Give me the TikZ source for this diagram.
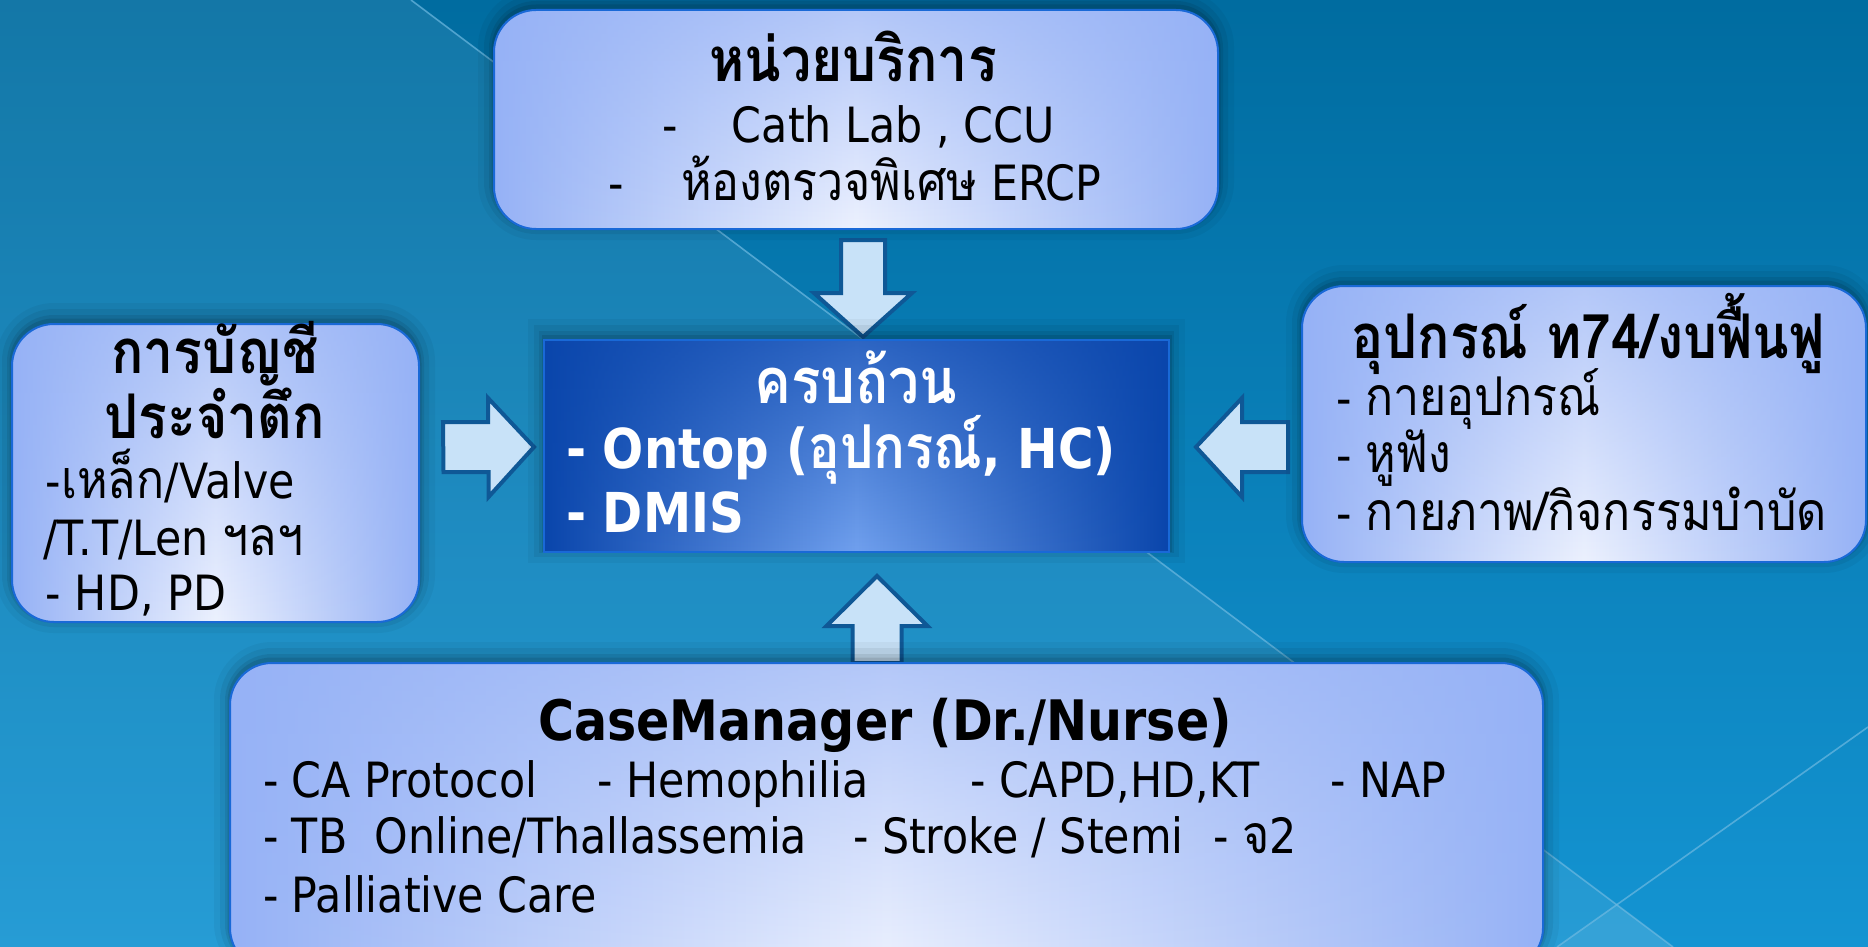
\documentclass[tikz,border=0pt]{standalone}
\usepackage{fontspec}
\setmainfont{DejaVu Sans}[FakeStretch=0.88]
\newfontfamily\thai[Script=Thai, Scale=1.1, FakeStretch=0.87]{Loma}
\usetikzlibrary{calc,fadings}
\pgfdeclarelayer{bg}
\pgfdeclarelayer{arr}
\pgfsetlayers{bg,arr,main}
\definecolor{bgtop}{RGB}{0,108,160}
\definecolor{bgbot}{RGB}{20,148,210}
\definecolor{boxedge}{RGB}{150,178,246}
\definecolor{boxmid}{RGB}{236,241,254}
\definecolor{boxline}{RGB}{25,105,215}
\definecolor{hubedge}{RGB}{10,70,172}
\definecolor{hubmid}{RGB}{112,160,238}
\definecolor{arrfill}{RGB}{200,226,248}
\definecolor{arrline}{RGB}{15,88,150}
\definecolor{bgline}{RGB}{110,185,225}
\tikzfading[name=topdark, top color=transparent!35, bottom color=transparent!100]
\begin{document}
\begin{tikzpicture}[x=0.5pt,y=-0.5pt,
  glow/.style={
    preaction={draw=black, draw opacity=0.04, line width=16pt, transform canvas={yshift=2.5pt}},
    preaction={draw=black, draw opacity=0.06, line width=10pt, transform canvas={yshift=2.5pt}},
    preaction={draw=black, draw opacity=0.08, line width=5pt, transform canvas={yshift=2pt}},
    preaction={draw=black, draw opacity=0.10, line width=2.5pt, transform canvas={yshift=1.5pt}}},
  box/.style={glow, rectangle, rounded corners=21pt, inner sep=0pt, outer sep=0pt,
    left color=boxedge, right color=boxedge, middle color=boxmid,
    postaction={fill=boxedge, path fading=topdark},
    postaction={draw=boxline, line width=1pt}},
  hubbox/.style={glow, rectangle, inner sep=0pt, outer sep=0pt,
    left color=hubedge, right color=hubedge, middle color=hubmid,
    postaction={fill=hubedge, path fading=topdark},
    postaction={draw=boxline, line width=1pt}},
  barrow/.style={fill=arrfill, draw=arrline, line width=2pt, line join=miter},
  txt/.style={inner sep=0pt, outer sep=0pt, text=black, font=\fontsize{24.3}{29}\selectfont},
  ttl/.style={inner sep=0pt, outer sep=0pt, text=black, font=\fontsize{27.9}{33}\selectfont\bfseries},
  thttl/.style={inner sep=0pt, outer sep=0pt, text=black, font=\fontsize{28}{33}\selectfont\thai\bfseries},
  wtxt/.style={inner sep=0pt, outer sep=0pt, text=white, font=\fontsize{27.5}{32}\selectfont\bfseries}
]
\useasboundingbox (0,0) rectangle (1868,947);
% background
\begin{pgfonlayer}{bg}
\shade[top color=bgtop, bottom color=bgbot] (0,0) rectangle (1868,947);
\fill[white, opacity=0.08] (0,0) -- (411,0) -- (1673,947) -- (0,947) -- cycle;
\fill[white, opacity=0.07] (1617,904.5) -- (1673,947) -- (1557,947) -- cycle;
\draw[bgline, opacity=0.7, line width=0.8pt] (411,0) -- (1673,947);
\draw[bgline, opacity=0.7, line width=0.8pt] (1868,727) -- (1557,947);
\end{pgfonlayer}

% boxes
\node[box, minimum width=362pt, minimum height=109.5pt] (service) at (856,119.5) {};
\node[hubbox, minimum width=312.5pt, minimum height=106pt] (hub) at (856.5,446) {};
\node[box, minimum width=203.5pt, minimum height=149pt] (account) at (215.5,473) {};
\node[box, minimum width=282pt, minimum height=138pt] (equip) at (1584,424) {};
\node[box, minimum width=656.5pt, minimum height=153.5pt] (casemgr) at (886.5,816.5) {};

% arrows
\coordinate (tailD) at ($(service.south)+(7,11)$);
\coordinate (tipD) at ($(hub.north)+(6.5,-3)$);
\coordinate (tailU) at ($(casemgr.north)+(-9.5,0)$);
\coordinate (tipU) at ($(hub.south)+(20.5,24)$);
\coordinate (tailR) at ($(account.east)+(24,-26)$);
\coordinate (tipR) at ($(hub.west)+(-10,1)$);
\coordinate (tailL) at ($(equip.west)+(-14,23)$);
\coordinate (tipL) at ($(hub.east)+(27,1)$);
\begin{pgfonlayer}{arr}
\draw[barrow] (tailD) ++(-22,0) -- ++(0,53) -- ++(-27,0) -- (tipD) -- ++(49,-44) -- ++(-27,0) -- ++(0,-53) -- cycle;
\draw[barrow] (tailU) ++(-24.5,0) -- ++(0,-37) -- ++(-26,0) -- (tipU) -- ++(50.5,50) -- ++(-26,0) -- ++(0,37) -- cycle;
\draw[barrow] (tailR) ++(0,-25) -- ++(45,0) -- ++(0,-24) -- (tipR) -- ++(-45.5,50) -- ++(0,-25) -- ++(-45,0) -- cycle;
\draw[barrow] (tailL) ++(0,-25) -- ++(-46,0) -- ++(0,-24) -- (tipL) -- ++(46,50) -- ++(0,-25) -- ++(46,0) -- cycle;
\end{pgfonlayer}

% top box text
\node[thttl, anchor=base] (svcT) at (853,82) {หน่วยบริการ};
\node[txt, anchor=base west] (svcA) at (662,142) {\makebox[35pt][l]{-}Cath Lab , CCU};
\node[txt, anchor=base west] (svcB) at (608,200) {\makebox[36.5pt][l]{-}{\thai ห้องตรวจพิเศษ} ERCP};

% center box text
\node[wtxt, anchor=base, font=\fontsize{28.7}{33}\selectfont\thai\bfseries] (hubT) at (856,403) {ครบถ้วน};
\node[wtxt, anchor=base west] (hubA) at (566,468) {- Ontop ({\thai\bfseries อุปกรณ์}, HC)};
\node[wtxt, anchor=base west] (hubB) at (566,532) {- DMIS};

% left box text
\node[thttl, anchor=base] (accT1) at (215,373) {การบัญชี};
\node[thttl, anchor=base] (accT2) at (215,438) {ประจำตึก};
\node[txt, anchor=base west] (accA) at (46,498) {-{\thai เหล็ก}/Valve};
\node[txt, anchor=base west] (accB) at (43,555) {/T.T/Len {\thai ฯลฯ}};
\node[txt, anchor=base west] (accC) at (46,610) {- HD, PD};

% right box text
\node[thttl, anchor=base] (eqT) at (1588,358) {อุปกรณ์ ท74/งบฟื้นฟู};
\node[txt, anchor=base west] (eqA) at (1336,415) {- {\thai กายอุปกรณ์}};
\node[txt, anchor=base west] (eqB) at (1336,472) {- {\thai หูฟัง}};
\node[txt, anchor=base west] (eqC) at (1336,530) {- {\thai กายภาพ/กิจกรรมบำบัด}};

% bottom box text
\node[ttl, anchor=base] (cmT) at (885,740) {CaseManager (Dr./Nurse)};
\node[txt, anchor=base west] (cm1) at (263,797) {- CA Protocol};
\node[txt, anchor=base west] (cm2) at (597,797) {- Hemophilia};
\node[txt, anchor=base west] (cm3) at (970,797) {- CAPD,HD,KT};
\node[txt, anchor=base west] (cm4) at (1330,797) {- NAP};
\node[txt, anchor=base west] (cm5) at (263,853) {- TB\ \ Online/Thallassemia};
\node[txt, anchor=base west] (cm6) at (853,853) {- Stroke / Stemi};
\node[txt, anchor=base west] (cm7) at (1213,853) {- {\thai จ}2};
\node[txt, anchor=base west] (cm8) at (263,912) {- Palliative Care};
\end{tikzpicture}
\end{document}
